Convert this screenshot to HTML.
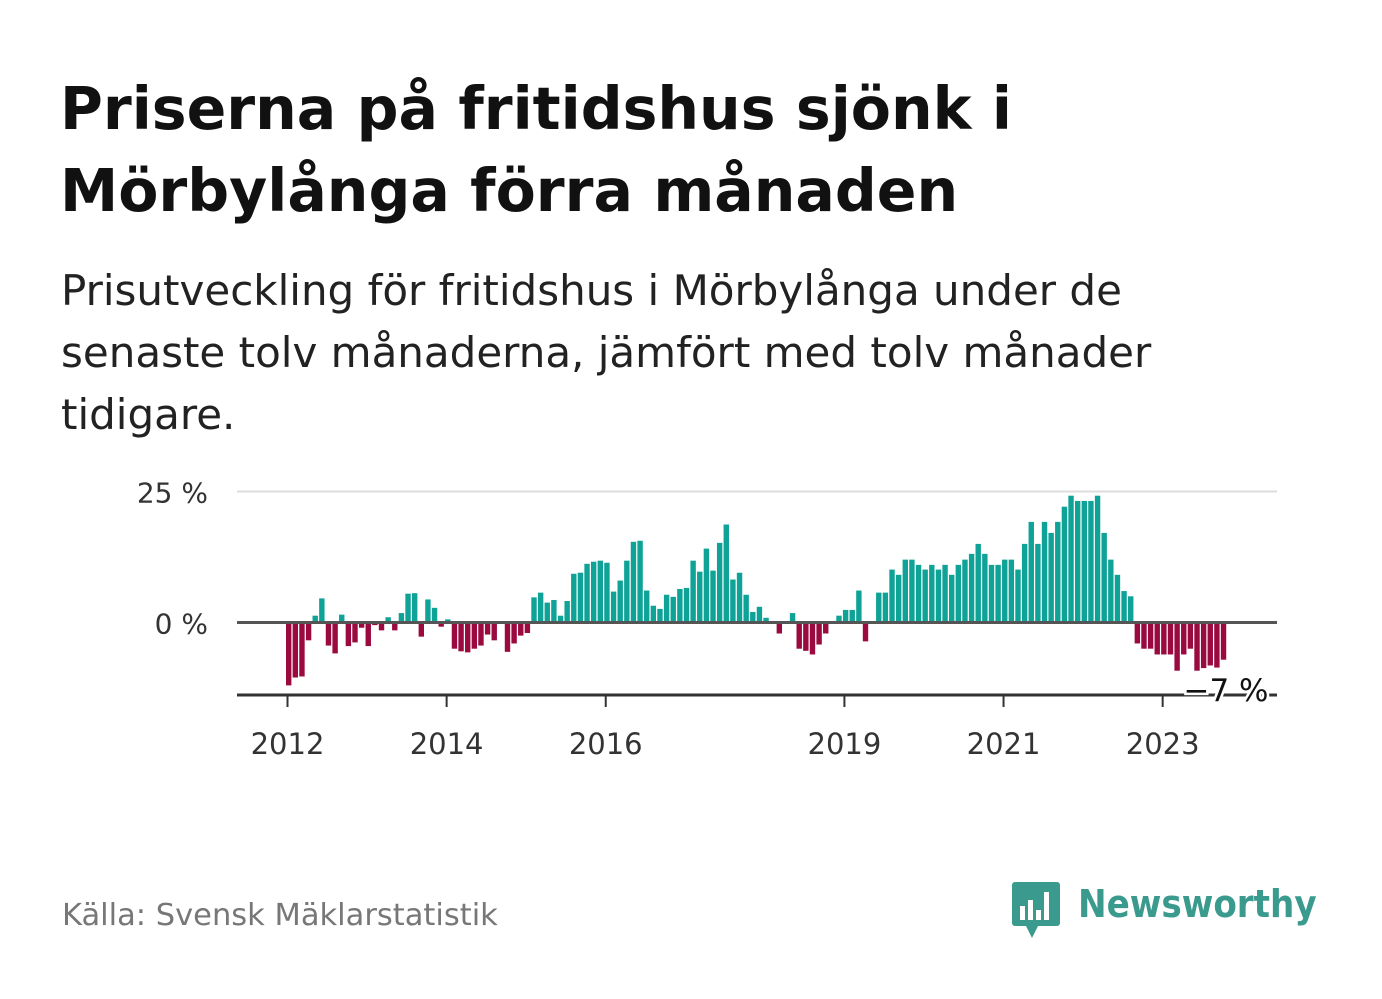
<!DOCTYPE html>
<html><head><meta charset="utf-8">
<style>
body{margin:0;background:#fff;width:1382px;height:999px;overflow:hidden;font-family:"DejaVu Sans","Liberation Sans",sans-serif;}
#title{position:absolute;left:60px;top:68px;font-size:58.5px;font-weight:bold;line-height:82px;color:#111;white-space:nowrap;}
#sub{position:absolute;left:61px;top:260px;font-size:42px;line-height:62px;color:#222;white-space:nowrap;}
#src{position:absolute;left:62px;top:898px;font-size:30.5px;color:#777;}
#logo{position:absolute;left:1012px;top:880px;}
</style></head><body>
<div id="title">Priserna på fritidshus sjönk i<br>Mörbylånga förra månaden</div>
<div id="sub">Prisutveckling för fritidshus i Mörbylånga under de<br>senaste tolv månaderna, jämfört med tolv månader<br>tidigare.</div>
<svg id="chart" width="1382" height="999" style="position:absolute;left:0;top:0"></svg>
<div id="src">Källa: Svensk Mäklarstatistik</div>
<div id="logo">
<svg width="320" height="60">
<rect x="0" y="2" width="48" height="44" rx="3" fill="#3a9a8e"/>
<polygon points="14,46 26,46 20,58" fill="#3a9a8e"/>
<rect x="8" y="26" width="5" height="14" fill="#fff"/><rect x="16" y="20" width="5" height="20" fill="#fff"/><rect x="24" y="30" width="5" height="10" fill="#fff"/><rect x="32" y="12" width="5" height="28" fill="#fff"/>
<text x="66" y="37" font-family="DejaVu Sans Condensed, DejaVu Sans, sans-serif" font-size="38" font-weight="bold" fill="#3a9a8e">Newsworthy</text>
</svg></div>
<script>
const years=[2012,2014,2016,2019,2021,2023];
const yTicks=[0,25];
const values=[-12,-10.5,-10.3,-3.4,1.3,4.6,-4.4,-5.9,1.5,-4.5,-3.8,-1,
-4.5,-0.5,-1.5,1,-1.5,1.8,5.5,5.6,-2.7,4.4,2.8,-0.8,
0.6,-5,-5.5,-5.7,-5,-4.4,-2.3,-3.4,0,-5.6,-4,-2.5,
-2,4.8,5.7,3.8,4.3,1.3,4.1,9.3,9.5,11.2,11.6,11.8,
11.4,5.9,8,11.8,15.4,15.6,6.1,3.2,2.6,5.3,4.9,6.4,
6.6,11.8,9.7,14.1,9.9,15.2,18.7,8.2,9.5,5.3,2,3,
0.9,0,-2.1,0,1.8,-5,-5.4,-6.1,-4.2,-2.1,0,1.3,
2.4,2.4,6.1,-3.6,0,5.7,5.7,10.1,9.1,12,12,11,
10.1,11,10.1,11,9.1,11,12,13.1,15,13.1,11,11,
12,12,10.1,15,19.2,15,19.2,17.1,19.2,22.1,24.2,23.2,
23.2,23.2,24.2,17.1,12,9.1,6,5,-4,-5,-5,-6.1,
-6.1,-6.1,-9.2,-6.1,-5,-9.2,-8.7,-8.2,-8.6,-7.1];
const lastLabel="−7 %";
const svg=document.getElementById('chart');const NS='http://www.w3.org/2000/svg';
function mk(t,a){const e=document.createElementNS(NS,t);for(const k in a)e.setAttribute(k,a[k]);svg.appendChild(e);return e;}
const y=v=>622.5-v*5.24;
const x=i=>286+i*6.63;
const yearX=yr=>x((yr-2012)*12)+1.5;
let g=mk('line',{x1:237,x2:1277,y1:y(25),y2:y(25),stroke:'#ddd','stroke-width':2});


yTicks.forEach(t=>{const e=mk('text',{x:208,y:y(t)+11,'text-anchor':'end','font-size':28,fill:'#333','font-family':'DejaVu Sans, sans-serif'});e.textContent=t+' %';

});
values.forEach((v,i)=>{const r=mk('rect',{x:x(i),width:5.4,y:Math.min(y(v),y(0)),height:Math.abs(y(v)-y(0)),fill:v>=0?'#0fa398':'#9b0a3e'});

});
let z=mk('line',{x1:237,x2:1277,y1:y(0),y2:y(0),stroke:'#555','stroke-width':3});


let ax=mk('line',{x1:237,x2:1277,y1:695,y2:695,stroke:'#333','stroke-width':3});


years.forEach(yr=>{const t=mk('line',{x1:yearX(yr),x2:yearX(yr),y1:695,y2:707,stroke:'#333','stroke-width':2});


const l=mk('text',{x:yearX(yr),y:754,'text-anchor':'middle','font-size':29,fill:'#333','font-family':'DejaVu Sans, sans-serif'});l.textContent=yr;

});
const lb=mk('text',{x:1226,y:701,'text-anchor':'middle','font-size':31,fill:'#111',stroke:'#fff','stroke-width':5,'paint-order':'stroke','font-family':'DejaVu Sans, sans-serif'});
lb.textContent=lastLabel;


</script>
</body></html>
